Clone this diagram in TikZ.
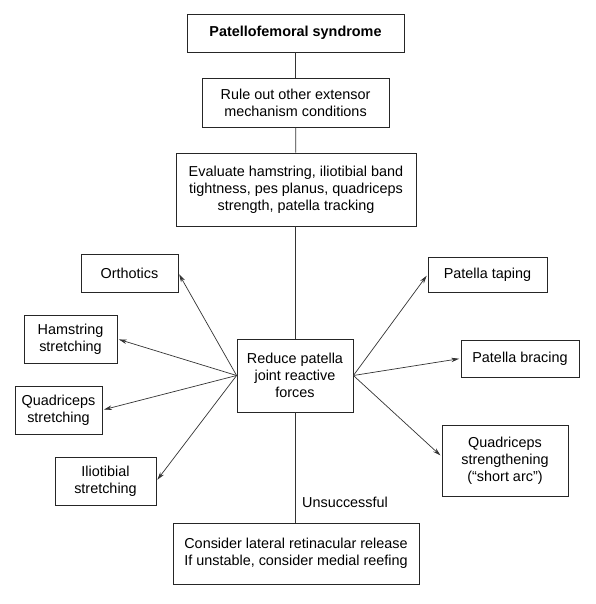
\documentclass[tikz,border=0pt]{standalone}
\usepackage{fontspec}
\setmainfont{Liberation Sans}
\usetikzlibrary{arrows.meta}
\begin{document}
\begin{tikzpicture}[x=1pt,y=-1pt,
  font=\fontsize{14.4}{17}\selectfont,
  box/.style={draw=black!85, line width=0.8pt, align=center, inner sep=0pt},
  link/.style={draw=black!80, line width=0.7pt},
  arr/.style={link, -{Stealth[length=8pt,width=4.5pt]}, shorten >=1.5pt}]
\useasboundingbox (0,0) rectangle (595,604);
\node[box, minimum width=217pt, minimum height=38pt] (top) at (295.5,33) {\textbf{Patellofemoral syndrome}};
\node[box, minimum width=187pt, minimum height=49pt] (rule) at (295.5,102.5) {Rule out other extensor\\mechanism conditions};
\node[box, minimum width=240pt, minimum height=73pt] (eval) at (296,189.5) {Evaluate hamstring, iliotibial band\\tightness, pes planus, quadriceps\\strength, patella tracking};
\node[box, minimum width=116pt, minimum height=73pt] (reduce) at (295,375.5) {Reduce patella\\joint reactive\\forces};
\node[box, minimum width=97pt, minimum height=38pt] (orth) at (129.5,273) {Orthotics};
\node[box, minimum width=93pt, minimum height=48pt] (ham) at (70.5,339) {Hamstring\\stretching};
\node[box, minimum width=87pt, minimum height=48pt] (quads) at (58.5,410) {Quadriceps\\stretching};
\node[box, minimum width=101pt, minimum height=48pt] (ilio) at (105.5,481) {Iliotibial\\stretching};
\node[box, minimum width=119pt, minimum height=35pt] (tap) at (487.5,274.5) {Patella taping};
\node[box, minimum width=118pt, minimum height=37pt] (brac) at (520,358.5) {Patella bracing};
\node[box, minimum width=126pt, minimum height=71pt] (qstr) at (505,460.5) {Quadriceps\\strengthening\\(“short arc”)};
\node[box, minimum width=246pt, minimum height=61pt] (final) at (296,553.5) {Consider lateral retinacular release\\If unstable, consider medial reefing};
\node[anchor=west, inner sep=0pt] (unsucc) at (302,502) {Unsuccessful};
\draw[link] (top) -- (rule);
\draw[link] (rule) -- (eval);
\draw[link] (eval.south -| reduce.north) -- (reduce.north);
\draw[link] (reduce.south) -- (final.north -| reduce.south);
\draw[arr] (reduce.west) -- (orth.east);
\draw[arr] (reduce.west) -- (ham.east);
\draw[arr] (reduce.west) -- (quads.east);
\draw[arr] (reduce.west) -- (ilio.east);
\draw[arr] (reduce.east) -- (tap.west);
\draw[arr] (reduce.east) -- (brac.west);
\draw[arr] (reduce.east) -- ([yshift=4pt]qstr.west);
\end{tikzpicture}
\end{document}
